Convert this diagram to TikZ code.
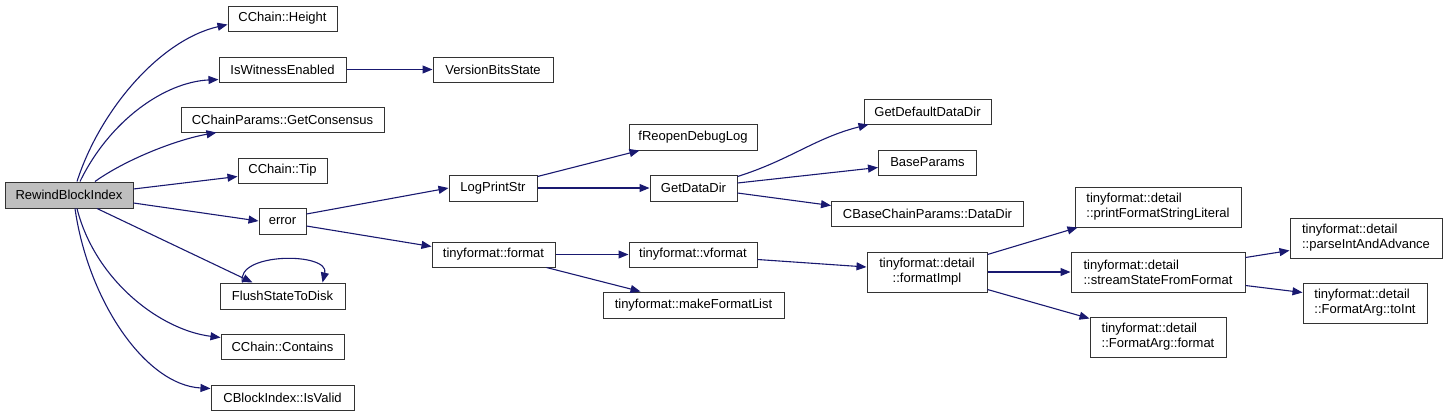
\documentclass[tikz,border=0pt]{standalone}
\usepackage{fontspec}
\setmainfont{Liberation Sans}
\usetikzlibrary{arrows.meta}
\definecolor{edgeblue}{RGB}{25,25,112}
\begin{document}
\begin{tikzpicture}[
            x=1pt, y=-1pt,
            fn/.style={draw=black!80, line width=1pt, inner sep=0pt, align=left,
                font=\fontsize{13}{15}\selectfont},
            call/.style={draw=edgeblue, line width=1.1pt, -{Triangle[length=10pt,width=8pt]}}
        ]
        \useasboundingbox (0,0) rectangle (1444,416);

        \node[fn, fill=black!25, minimum width=128pt, minimum height=26pt] (rbi) at (69,195) {RewindBlockIndex};
        \node[fn, minimum width=109pt, minimum height=25pt] (height) at (282.5,18.5) {CChain::Height};
        \node[fn, minimum width=127pt, minimum height=25pt] (witness) at (282.5,69.5) {IsWitnessEnabled};
        \node[fn, minimum width=120pt, minimum height=25pt] (vbs) at (493,69.5) {VersionBitsState};
        \node[fn, minimum width=203pt, minimum height=25pt] (cons) at (282.5,119.5) {CChainParams::GetConsensus};
        \node[fn, minimum width=89pt, minimum height=25pt] (tip) at (282.5,170.5) {CChain::Tip};
        \node[fn, minimum width=47pt, minimum height=26pt] (err) at (282.5,221) {error};
        \node[fn, minimum width=125pt, minimum height=26pt] (flush) at (282.5,296) {FlushStateToDisk};
        \node[fn, minimum width=123pt, minimum height=25pt] (cont) at (282.5,346.5) {CChain::Contains};
        \node[fn, minimum width=143pt, minimum height=25pt] (valid) at (282.5,397.5) {CBlockIndex::IsValid};

        \node[fn, minimum width=88pt, minimum height=26pt] (logp) at (493,188) {LogPrintStr};
        \node[fn, minimum width=123pt, minimum height=25pt] (tfmt) at (493.5,254.5) {tinyformat::format};
        \node[fn, minimum width=128pt, minimum height=26pt] (freop) at (693,137) {fReopenDebugLog};
        \node[fn, minimum width=87pt, minimum height=26pt] (gdd) at (693.5,188) {GetDataDir};
        \node[fn, minimum width=128pt, minimum height=25pt] (vfmt) at (693,254.5) {tinyformat::vformat};
        \node[fn, minimum width=181pt, minimum height=26pt] (mfl) at (693.5,305) {tinyformat::makeFormatList};

        \node[fn, minimum width=127pt, minimum height=25pt] (gddd) at (927.5,111.5) {GetDefaultDataDir};
        \node[fn, minimum width=98pt, minimum height=25pt] (bp) at (927.5,162.5) {BaseParams};
        \node[fn, minimum width=192pt, minimum height=25pt] (cbdd) at (927.5,213.5) {CBaseChainParams::DataDir};
        \node[fn, align=center, minimum width=120pt, minimum height=40pt] (fi) at (927,272) {tinyformat::detail\\::formatImpl};

        \node[fn, minimum width=166pt, minimum height=40pt] (pfsl) at (1158,207) {tinyformat::detail\\::printFormatStringLiteral};
        \node[fn, minimum width=174pt, minimum height=40pt] (sss) at (1158,272) {tinyformat::detail\\::streamStateFromFormat};
        \node[fn, minimum width=136pt, minimum height=40pt] (fafmt) at (1158,337) {tinyformat::detail\\::FormatArg::format};
        \node[fn, minimum width=152pt, minimum height=40pt] (pia) at (1366,238) {tinyformat::detail\\::parseIntAndAdvance};
        \node[fn, minimum width=124pt, minimum height=40pt] (toint) at (1365,303) {tinyformat::detail\\::FormatArg::toInt};

        \draw[call] ([xshift=8pt]rbi.north) .. controls (100,110) and (160,40) .. ([yshift=-6pt]height.west);
        \draw[call] ([xshift=11pt]rbi.north) .. controls (110,120) and (165,82) .. ([yshift=3pt]witness.south west);
        \draw[call] ([xshift=26pt]rbi.north) .. controls (125,160) and (175,140) .. ([xshift=36pt]cons.south west);
        \draw[call] ([yshift=6pt]rbi.east) -- ([yshift=-6pt]tip.west);
        \draw[call] ([yshift=-8pt]rbi.east) -- (err.west);
        \draw[call] ([xshift=28pt]rbi.south) -- ([xshift=-30pt]flush.north);
        \draw[call] ([xshift=8pt]rbi.south) .. controls (95,280) and (160,330) .. ([yshift=9pt]cont.west);
        \draw[call] ([xshift=6pt]rbi.south) .. controls (88,300) and (145,385) .. ([yshift=9pt]valid.west);
        \draw[call] ([xshift=-40pt]flush.north) .. controls (235,252) and (330,252) .. ([xshift=40pt]flush.north);
        \draw[call] (witness.east) -- (vbs.west);

        \draw[call] ([yshift=7pt]err.east) -- (logp.west);
        \draw[call] ([yshift=-5pt]err.east) -- ([yshift=8pt]tfmt.west);
        \draw[call] ([yshift=-2pt]logp.north east) -- ([xshift=11pt]freop.south west);
        \draw[call] (logp.east) -- (gdd.west);
        \draw[call] (tfmt.east) -- (vfmt.west);
        \draw[call] ([xshift=-9pt]tfmt.south east) -- ([xshift=-53pt]mfl.north);

        \draw[call] ([yshift=-2pt]gdd.north east) .. controls (790,160) and (815,138) .. ([xshift=5pt]gddd.south west);
        \draw[call] ([yshift=5pt]gdd.east) -- ([yshift=-5pt]bp.west);
        \draw[call] ([yshift=-5pt]gdd.east) -- ([yshift=8pt]cbdd.west);
        \draw[call] ([yshift=-5pt]vfmt.east) -- ([yshift=5pt]fi.west);

        \draw[call] ([yshift=-3pt]fi.north east) -- ([xshift=3pt]pfsl.south west);
        \draw[call] (fi.east) -- (sss.west);
        \draw[call] ([yshift=3pt]fi.south east) -- ([yshift=-2pt]fafmt.north west);
        \draw[call] ([yshift=-6pt]sss.north east) -- ([yshift=8pt]pia.south west);
        \draw[call] ([yshift=7pt]sss.south east) -- ([yshift=-10pt]toint.north west);
    \end{tikzpicture}
\end{document}
